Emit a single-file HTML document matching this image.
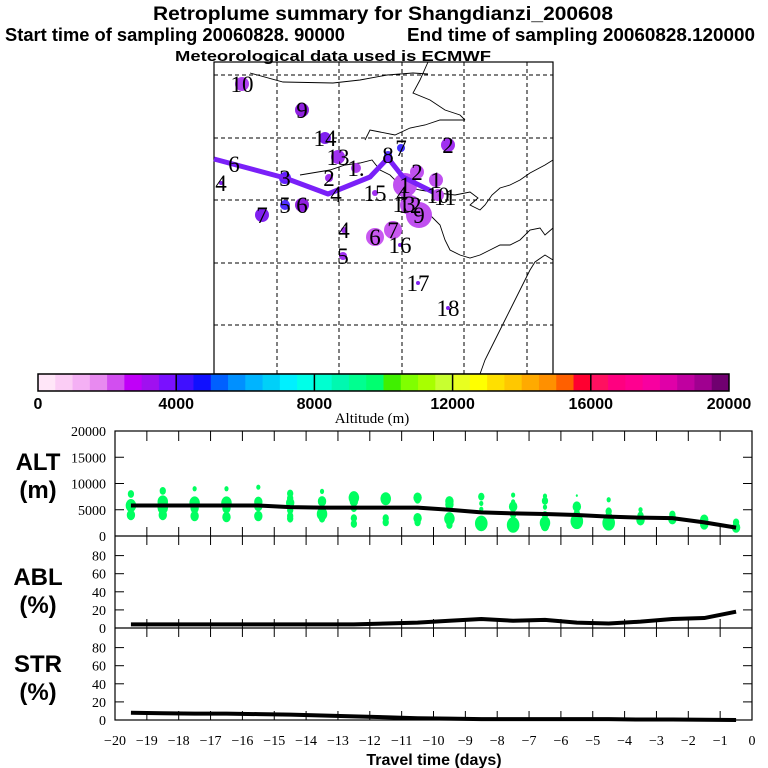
<!DOCTYPE html>
<html><head><meta charset="utf-8"><style>
html,body{margin:0;padding:0;background:#fff}
svg{display:block}
.t{font-family:"Liberation Sans",sans-serif;font-weight:bold}
.s{font-family:"Liberation Serif",serif}
</style></head><body>
<svg id="c" width="768" height="768" viewBox="0 0 768 768" xmlns="http://www.w3.org/2000/svg">
<text class="t" x="383" y="20" font-size="19" text-anchor="middle" textLength="460" lengthAdjust="spacingAndGlyphs">Retroplume summary for Shangdianzi_200608</text>
<text class="t" x="5" y="41" font-size="18" textLength="340" lengthAdjust="spacingAndGlyphs">Start time of sampling 20060828. 90000</text>
<text class="t" x="407" y="41" font-size="18" textLength="348" lengthAdjust="spacingAndGlyphs">End time of sampling 20060828.120000</text>
<text class="t" x="333" y="61" font-size="15" text-anchor="middle" textLength="316" lengthAdjust="spacingAndGlyphs">Meteorological data used is ECMWF</text>
<g id="map"></g>
<g id="cbar"></g>
<g id="plots"></g>
</svg>
<script>
// ---- data ----
const cbarColors=["#ffe6f8","#fbcdf5","#f4b0f4","#e88af0","#d24ef0","#c000f8","#a010f0","#7a10ff",
"#4010ff","#1010ff","#0060ff","#0090ff","#00b4ff","#00d0f8","#00f0ff","#00ffe8",
"#00ffd0","#00f8b0","#00ff90","#00ff70","#40f000","#80ff00","#a8ff00","#c8ff30",
"#e8ff20","#ffff00","#ffe000","#ffc800","#ffaa00","#ff9000","#ff6000","#ff0030",
"#ff1060","#ff0080","#ff0090","#f800a0","#e000a8","#c000a0","#a00090","#700070"];
const cbarTicks=[0,4000,8000,12000,16000,20000];
const days=[-19.5,-18.5,-17.5,-16.5,-15.5,-14.5,-13.5,-12.5,-11.5,-10.5,-9.5,-8.5,-7.5,-6.5,-5.5,-4.5,-3.5,-2.5,-1.5,-0.5];
const altMean=[5800,5800,5800,5800,5800,5500,5400,5400,5400,5400,5000,4500,4300,4200,4000,3700,3500,3400,2600,1600];
const altBlobAlt=[[8000,5800,4000],[8600,6500,5400,4000],[9000,6300,5300,3800],[9000,6300,5300,3600],[9300,6500,5700,3800],
[8100,7200,6300,4900,3800,3300],[8500,6600,5000,4200,3300],[7300,6600,5300,3400,2300],[7100,3400,2600],[7300,6900,3400,2600],
[6600,6000,3300,2100],[7500,6200,5100,2400],[7800,6500,5600,4100,2100],[7600,6700,5500,4000,2500,1900],[7700,5600,4300,2800],
[6900,4700,3500,2500],[5000,3900,3000],[4100,3200],[3100,2200],[2600,1600]];
const altBlobSize=[[3,5,4],[3,5,5,4],[2,5,4,4],[2,5,4,4],[2,4,4,4],[3,3,4,3,3,3],[2,4,3,5,3],[5,4,3,3,3],[5,3,3],[4,3,4,3],
[4,4,5,3],[3,2,2,6],[2,2,4,3,6],[2,3,2,3,5,4],[1,4,3,6],[2,3,4,6],[2,3,4],[3,4],[4,4],[3,4]];
const ablVals=[4,4,4,4,4,4,4,4,5,6,8,10,8,9,6,5,7,10,11,18];
const strVals=[8,7.5,7,7,6.5,6,5,4,3,2,1.5,1,1,1,1,1,0.5,0.5,0.3,0];
const altTicks=[0,5000,10000,15000,20000];
const pctTicks=[0,20,40,60,80];
const dayTicks=[-20,-19,-18,-17,-16,-15,-14,-13,-12,-11,-10,-9,-8,-7,-6,-5,-4,-3,-2,-1,0];
const trajX=[214,285,328,370,388,403,433];
const trajY=[159,178,194,177,158,177,192];
const spotX=[242,302,325,338,356,329,285,285,302,262,344,343,375,388,401,448,417,405,436,438,410,419,375,393,400,418,448,221];
const spotY=[84,110,138,157,168,178,178,205,205,215,230,256,193,155,148,145,172,185,180,195,205,215,237,230,245,283,308,183];
const spotR=[7,7,6,7,5,4,6,5,7,7,3,4,3,4,4,7,7,12,7,6,10,13,9,9,2,2,2,2];
const spotC=["#b040f0","#9020e0","#8020f0","#a030f0","#b040f0","#a030f0","#6020ff","#5030ff","#9020e0","#8020f0","#a030f0","#a030f0","#a030f0","#5030ff","#4030ff","#a030f0","#c050f0","#c050f0","#c050f0","#c050f0","#c050f0","#c050f0","#c858f0","#c858f0","#8020f0","#8020f0","#8020f0","#8020f0"];
const spotLbl=["10","9","14","13","1.","2","3","5","6","7","4","5","15","8","7","2","2","1","1","10","12","9","6","7","16","17","18","4"];
const extraLbl=["6","4","4","11","13"];
const extraX=[234,336,402,445,404];
const extraY=[172,202,202,205,212];
// ---- helpers ----
const NS="http://www.w3.org/2000/svg";
function mk(p,tag,at,txt){const e=document.createElementNS(NS,tag);for(const k in at)e.setAttribute(k,at[k]);if(txt!==undefined)e.textContent=txt;p.appendChild(e);return e;}
// ---- map ----
const map=document.getElementById('map');
const mx0=214,mx1=553,my0=62,my1=374;
const gv=[277,339,402,464,527], gh=[75,138,200,263,325];
gv.forEach(x=>{const l=mk(map,'line',{x1:x,y1:my0,x2:x,y2:my1,stroke:'#000','stroke-width':1,'stroke-dasharray':'4,3'});

});
gh.forEach(y=>{const l=mk(map,'line',{x1:mx0,y1:y,x2:mx1,y2:y,stroke:'#000','stroke-width':1,'stroke-dasharray':'4,3'});

});
const coasts=["250,73 283,82 333,83 360,80 387,75 413,73 428,74",
"428,62 420,80 413,93 430,100 445,110 460,115 465,120",
"365,140 370,130 380,132 395,135 410,128 425,125 440,120 465,120",
"300,175 330,170 345,165 360,163 372,160 380,170 390,175 400,185 420,190 438,193 455,195 470,192 478,198 470,205 480,210 485,205 492,195 500,188 510,185 520,180 530,173 545,165 553,160",
"430,215 440,225 445,240 450,250 460,255 470,258 480,255 490,250 500,245 510,245 520,240 530,230 540,228 545,235 553,228",
"553,260 545,255 535,262 530,270 525,280 520,290 515,300 510,310 505,320 500,330 495,340 490,350 485,360 480,374"];
coasts.forEach(pts=>{const pl=mk(map,'polyline',{points:pts,fill:'none',stroke:'#000','stroke-width':0.9});

});
const frame=mk(map,'rect',{x:mx0,y:my0,width:mx1-mx0,height:my1-my0,fill:'none',stroke:'#000','stroke-width':1.2});


for(let i=0;i<spotX.length;i++){const c=mk(map,'circle',{cx:spotX[i],cy:spotY[i],r:spotR[i],fill:spotC[i]});

}
const tp=mk(map,'polyline',{points:trajX.map((x,i)=>x+','+trajY[i]).join(' '),fill:'none',stroke:'#7a20f8','stroke-width':5,'stroke-linejoin':'round'});


for(let i=0;i<spotX.length;i++){const t=mk(map,'text',{x:spotX[i],y:spotY[i]+8,'font-size':23,'text-anchor':'middle',class:'s',fill:'#000'},spotLbl[i]);

}
for(let i=0;i<extraLbl.length;i++){const t=mk(map,'text',{x:extraX[i],y:extraY[i],'font-size':23,'text-anchor':'middle',class:'s',fill:'#000'},extraLbl[i]);

}
// ---- colorbar ----
const cb=document.getElementById('cbar');
const cbx0=38,cbx1=729,cby0=374,cby1=391;
const cw=(cbx1-cbx0)/cbarColors.length;
cbarColors.forEach((col,i)=>{const r=mk(cb,'rect',{x:cbx0+i*cw,y:cby0,width:cw+0.5,height:cby1-cby0,fill:col});

});
const cbf=mk(cb,'rect',{x:cbx0,y:cby0,width:cbx1-cbx0,height:cby1-cby0,fill:'none',stroke:'#000','stroke-width':1.5});


const cbScale=v=>cbx0+(v/20000)*(cbx1-cbx0);
cbarTicks.forEach(v=>{const x=cbScale(v);
if(v>0&&v<20000){const l=mk(cb,'line',{x1:x,y1:cby0,x2:x,y2:cby1,stroke:'#000','stroke-width':1.5});

}
const t=mk(cb,'text',{x:x,y:409,'font-size':16,'text-anchor':'middle',class:'t'},String(v));

});
const cbt=mk(cb,'text',{x:372,y:423,'font-size':15,'text-anchor':'middle',class:'s'},'Altitude (m)');


// ---- panels ----
const P=document.getElementById('plots');
const px0=115,px1=752;
const xs=d=>px0+(d+20)/20*(px1-px0);
const altTop=431,altBot=536;
const ya=v=>altBot-v/20000*(altBot-altTop);
const ablBot=628,strBot=720,pscale=0.905;
const yb=v=>ablBot-v*pscale;
const yc=v=>strBot-v*pscale;
const fr=mk(P,'rect',{x:px0,y:altTop,width:px1-px0,height:strBot-altTop,fill:'none',stroke:'#000','stroke-width':1.2});


[altBot,ablBot].forEach(y=>{const l=mk(P,'line',{x1:px0,y1:y,x2:px1,y2:y,stroke:'#000','stroke-width':1.2});

});
dayTicks.forEach(d=>{if(d===-20||d===0)return;const x=xs(d);
[[altTop,altTop+10],[altBot-9,altBot+9],[ablBot-9,ablBot+9],[strBot-9,strBot]].forEach(s=>{const l=mk(P,'line',{x1:x,y1:s[0],x2:x,y2:s[1],stroke:'#000','stroke-width':1});

});});
dayTicks.forEach(d=>{const t=mk(P,'text',{x:xs(d),y:745,'font-size':14,'text-anchor':'middle',class:'s'},d===0?'0':'\u2212'+Math.abs(d));

});
const xt=mk(P,'text',{x:434,y:765,'font-size':16,'text-anchor':'middle',class:'t'},'Travel time (days)');


function yticks(vals,fy){vals.forEach(v=>{const y=fy(v);
if(!(v===0)){[[px0,px0+9],[px1-9,px1]].forEach(s=>{const l=mk(P,'line',{x1:s[0],y1:y,x2:s[1],y2:y,stroke:'#000','stroke-width':1});

});}
const t=mk(P,'text',{x:106,y:y+5,'font-size':14,'text-anchor':'end',class:'s'},String(v));

});}
yticks(altTicks,ya);yticks(pctTicks,yb);yticks(pctTicks,yc);
[['ALT','(m)',470,'alt-axis-title'],['ABL','(%)',585,'abl-axis-title'],['STR','(%)',672,'str-axis-title']].forEach(a=>{
const t1=mk(P,'text',{x:38,y:a[2],'font-size':24,'text-anchor':'middle',class:'t'},a[0]);


const t2=mk(P,'text',{x:38,y:a[2]+28,'font-size':24,'text-anchor':'middle',class:'t'},a[1]);

});
days.forEach((d,i)=>{altBlobAlt[i].forEach((v,j)=>{const e=mk(P,'ellipse',{cx:xs(d),cy:ya(v),rx:altBlobSize[i][j]*1.05,ry:altBlobSize[i][j]*1.3,fill:'#00ff60'});

});});
function line(vals,fy,name){const pl=mk(P,'polyline',{points:days.map((d,i)=>xs(d)+','+fy(vals[i])).join(' '),fill:'none',stroke:'#000','stroke-width':4,'stroke-linejoin':'round'});

}
line(altMean,ya,'alt-mean-line');line(ablVals,yb,'abl-line');line(strVals,yc,'str-line');
</script>
</body></html>
